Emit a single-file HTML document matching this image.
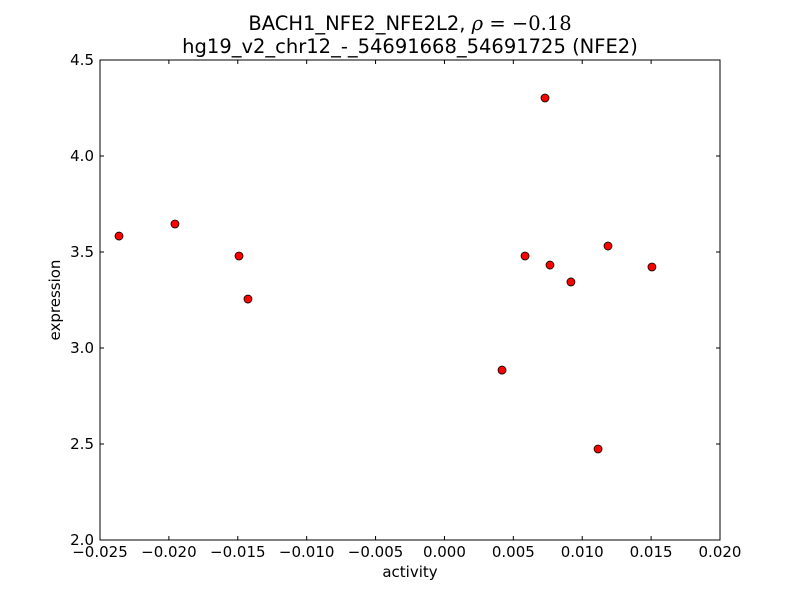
<!DOCTYPE html>
<html><head><meta charset="utf-8"><style>
body{margin:0;background:#fff}
svg{display:block;font-family:"DejaVu Sans","Liberation Sans",sans-serif}
</style></head><body>
<svg id="chart" width="800" height="600">
<rect width="800" height="600" fill="#fff"/>
<text x="410" y="30" font-size="19.5" text-anchor="middle">BACH1_NFE2_NFE2L2, <tspan font-family="DejaVu Serif,serif" font-style="italic">ρ</tspan><tspan font-family="DejaVu Serif,serif"> = −0.18</tspan></text>
<text x="410" y="53" font-size="19.5" text-anchor="middle">hg19_v2_chr12_-_54691668_54691725 (NFE2)</text>
<g id="ticks"></g>
<g id="points"></g>
<rect x="100" y="60" width="620" height="480" fill="none" stroke="#000" stroke-width="1"/>
<text x="410" y="577" font-size="15" text-anchor="middle">activity</text>
<text x="60" y="300" font-size="15" text-anchor="middle" transform="rotate(-90 60 300)">expression</text>
</svg>
<script>
const xVals=[-0.02362,-0.01956,-0.01491,-0.01426,0.00418,0.00585,0.00730,0.00766,0.00918,0.01115,0.01187,0.01506];
const yVals=[3.583,3.646,3.479,3.255,2.885,3.479,4.302,3.432,3.344,2.474,3.531,3.422];
const xTicks=[-0.025,-0.020,-0.015,-0.010,-0.005,0.000,0.005,0.010,0.015,0.020];
const xTickLabels=["−0.025","−0.020","−0.015","−0.010","−0.005","0.000","0.005","0.010","0.015","0.020"];
const yTicks=[2.0,2.5,3.0,3.5,4.0,4.5];
const yTickLabels=["2.0","2.5","3.0","3.5","4.0","4.5"];
const NS="http://www.w3.org/2000/svg";
const X=v=>100+(v+0.025)/0.045*620;
const Y=v=>540-(v-2.0)/2.5*480;
const tg=document.getElementById('ticks'),pg=document.getElementById('points');
function mk(t,a){const e=document.createElementNS(NS,t);for(const k in a)e.setAttribute(k,a[k]);return e;}
xTicks.forEach((v,i)=>{const x=X(v);
 tg.appendChild(mk('line',{x1:x,x2:x,y1:540,y2:536,stroke:'#000'}));
 tg.appendChild(mk('line',{x1:x,x2:x,y1:60,y2:64,stroke:'#000'}));
 const t=mk('text',{x:x,y:557,'font-size':15,'text-anchor':'middle'});t.textContent=xTickLabels[i];
 
 
 tg.appendChild(t);});
yTicks.forEach((v,i)=>{const y=Y(v);
 tg.appendChild(mk('line',{x1:100,x2:104,y1:y,y2:y,stroke:'#000'}));
 tg.appendChild(mk('line',{x1:716,x2:720,y1:y,y2:y,stroke:'#000'}));
 const t=mk('text',{x:94,y:y+5,'font-size':15,'text-anchor':'end'});t.textContent=yTickLabels[i];
 
 
 tg.appendChild(t);});
xVals.forEach((v,i)=>{const c=mk('circle',{cx:X(v),cy:Y(yVals[i]),r:4,fill:'#ff0000',stroke:'#000','stroke-width':0.8});
 
 
 pg.appendChild(c);});
</script>
</body></html>
